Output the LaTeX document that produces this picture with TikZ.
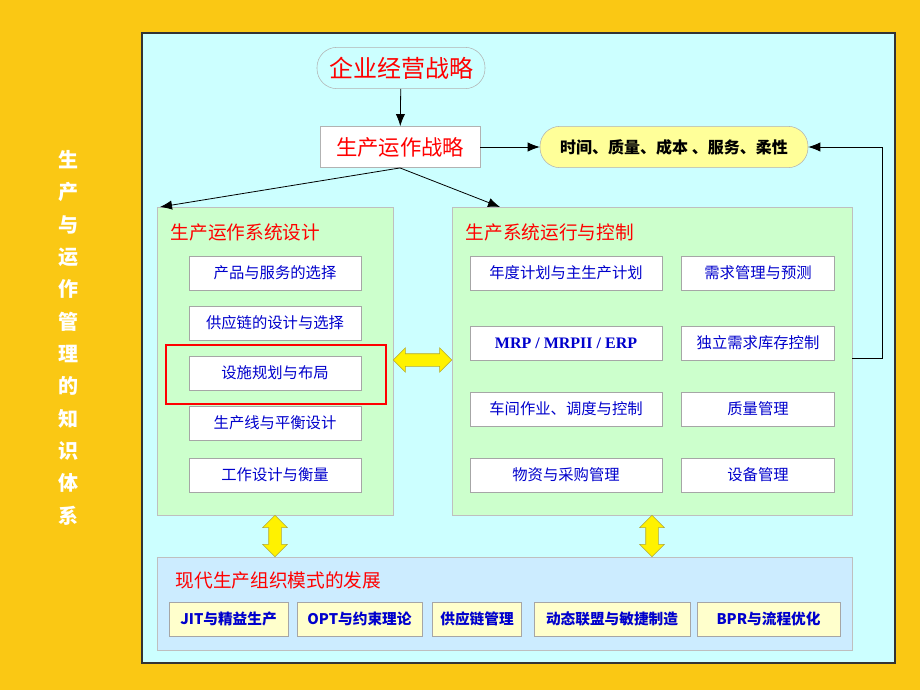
\documentclass[tikz,border=0pt]{standalone}
\usepackage{fontspec}
\setmainfont{Liberation Serif}
\newfontfamily\cjk{Noto Sans CJK SC}
\usetikzlibrary{positioning,shapes.arrows,arrows.meta}
\definecolor{bgorange}{RGB}{250,200,20}
\definecolor{panelcyan}{RGB}{204,255,255}
\definecolor{panelgreen}{RGB}{204,255,204}
\definecolor{panelblue}{RGB}{204,236,255}
\definecolor{goalyellow}{RGB}{255,255,153}
\definecolor{boxyellow}{RGB}{255,255,204}
\definecolor{textblue}{RGB}{0,0,204}
\tikzset{
  item/.style={draw=gray!70, fill=white, minimum height=25.5pt, font=\cjk\fontsize{11.5}{12}\selectfont, text=textblue},
  bitem/.style={item, fill=boxyellow, font=\cjk\bfseries\fontsize{11}{12}\selectfont},
  ptitle/.style={anchor=west, text=red, font=\cjk\fontsize{14}{15}\selectfont},
  biarrow/.style={double arrow, fill=yellow, draw=olive!70, double arrow head extend=4.5pt, inner xsep=0pt, inner ysep=4.5pt, minimum height=#1},
  conn/.style={-{Latex[length=9pt,width=7pt]}, semithick}
}
\begin{document}
\begin{tikzpicture}[x=0.75pt, y=-0.75pt]
	\useasboundingbox (0,0) rectangle (920,690);
	\fill[bgorange] (0,0) rectangle (920,690);
	\fill[panelcyan, draw=black!80, line width=1pt] (142,33) rectangle (895,663);
	% vertical title
	\foreach \c [count=\i from 0] in {生,产,与,运,作,管,理,的,知,识,体,系}
		\node[text=white, font=\cjk\bfseries\fontsize{15}{15}\selectfont] at (68,160+32.3*\i) {\c};
	% panels
	\fill[panelgreen, draw=gray!50] (157,207) rectangle (393,515);
	\fill[panelgreen, draw=gray!50] (452,207) rectangle (852,515);
	\fill[panelblue, draw=gray!50] (157,557) rectangle (852,650);
	\node[ptitle] (lt) at (166,232) {生产运作系统设计};
	\node[ptitle] (rt) at (461,232) {生产系统运行与控制};
	\node[ptitle] (bt) at (171,580) {现代生产组织模式的发展};
	% strategy chain
	\node[draw=gray!60, rounded corners=15pt, fill=panelcyan, minimum width=126pt, minimum height=31pt, text=red, font=\cjk\fontsize{18}{18}\selectfont] (biz) at (401,68) {企业经营战略};
	\node[draw=gray!60, fill=white, minimum width=120pt, minimum height=31pt, text=red, font=\cjk\fontsize{16}{16}\selectfont] (ops) at (400,147) {生产运作战略};
	\node[draw=gray!60, rounded corners=15pt, fill=goalyellow, minimum width=201pt, minimum height=31pt, font=\cjk\bfseries\fontsize{12}{12}\selectfont] (goal) at (674,147) {时间、质量、成本 、服务、柔性};
	\coordinate (ld) at (160,207);
	\coordinate (rd) at (500,207);
	\draw[conn] (biz) -- (ops);
	\draw[conn] (ops) -- (goal);
	\draw[conn] (ops.south) -- (ld);
	\draw[conn] (ops.south) -- (rd);
	% left items
	\node[item, minimum width=129pt] (l1) at (275,273) {产品与服务的选择};
	\node[item, minimum width=129pt] (l2) at (275,323) {供应链的设计与选择};
	\node[item, minimum width=129pt] (l3) at (275,373) {设施规划与布局};
	\node[item, minimum width=129pt] (l4) at (275,423) {生产线与平衡设计};
	\node[item, minimum width=129pt] (l5) at (275,475) {工作设计与衡量};
	\draw[red, line width=2.2pt] (166,345) rectangle (386,404);
	% right items
	\node[item, minimum width=144pt] (r1) at (566,273) {年度计划与主生产计划};
	\node[item, minimum width=115pt] (r2) at (758,273) {需求管理与预测};
	\node[item, minimum width=144pt, font=\bfseries\fontsize{12}{12}\selectfont] (r3) at (566,343) {MRP / MRPII / ERP};
	\node[item, minimum width=115pt] (r4) at (758,343) {独立需求库存控制};
	\node[item, minimum width=144pt] (r5) at (566,409) {车间作业、调度与控制};
	\node[item, minimum width=115pt] (r6) at (758,409) {质量管理};
	\node[item, minimum width=144pt] (r7) at (566,475) {物资与采购管理};
	\node[item, minimum width=115pt] (r8) at (758,475) {设备管理};
	% feedback to goals
	\coordinate (fb) at (852,358);
	\draw[conn] (fb) -- (882,358) |- (goal.east);
	% bottom items
	\node[bitem, minimum width=89pt] (b1) at (228.5,619) {JIT与精益生产};
	\node[bitem, minimum width=94pt] (b2) at (359.5,619) {OPT与约束理论};
	\node[bitem, minimum width=67pt] (b3) at (477,619) {供应链管理};
	\node[bitem, minimum width=117pt] (b4) at (612,619) {动态联盟与敏捷制造};
	\node[bitem, minimum width=107pt] (b5) at (768.5,619) {BPR与流程优化};
	% links between panels
	\node[biarrow=44pt] (hx) at (422.5,360) {};
	\node[biarrow=31pt, rotate=90] (v1) at (275,536) {};
	\node[biarrow=31pt, rotate=90] (v2) at (652,536) {};
\end{tikzpicture}
\end{document}
